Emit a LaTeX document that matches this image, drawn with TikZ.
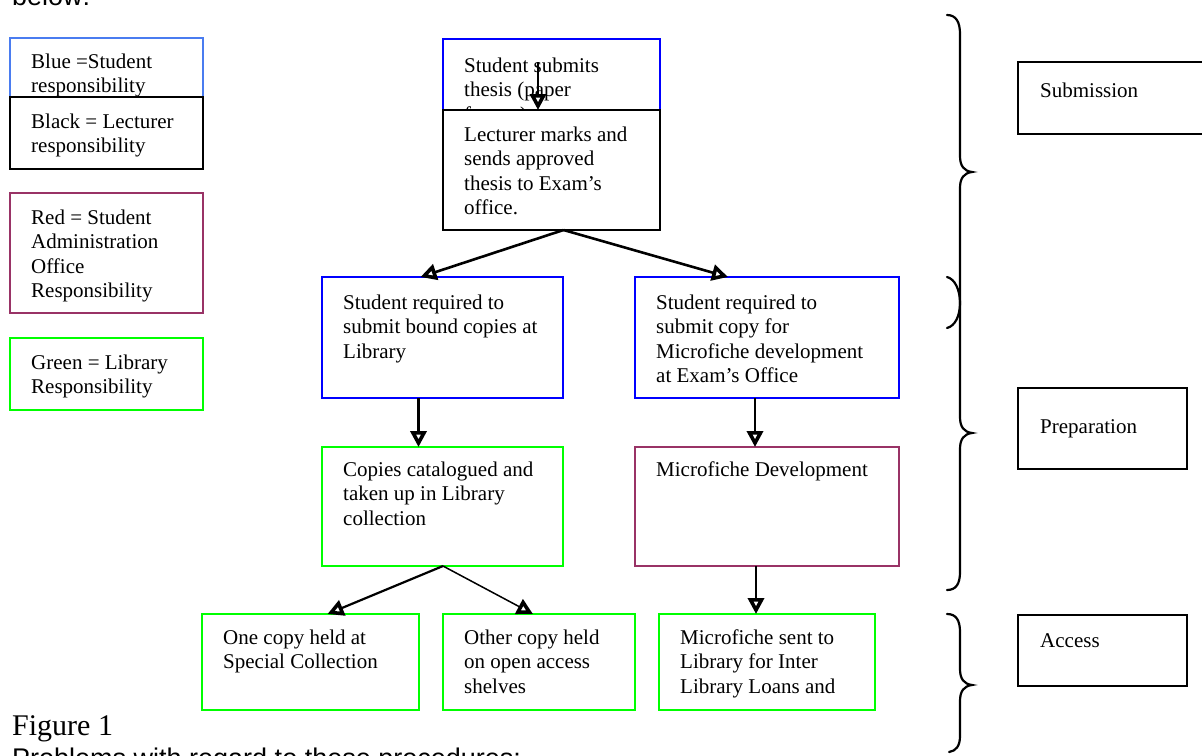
\documentclass[tikz,border=0pt]{standalone}
\usepackage{fontspec}
\setmainfont{Liberation Serif}
\newfontfamily\arialf{Liberation Sans}
\usetikzlibrary{arrows.meta}
\definecolor{stublue}{RGB}{0,0,255}
\definecolor{legblue}{RGB}{74,124,240}
\definecolor{libgreen}{RGB}{0,255,0}
\definecolor{admred}{RGB}{153,51,102}
\tikzset{
  boxst/.style={rectangle, line width=2.8pt, fill=white, anchor=north west, inner sep=0pt, outer sep=0pt},
  txt/.style={anchor=north west, align=left, inner sep=0pt, font=\fontsize{21}{24.5}\selectfont},
  tipst/.style={-{Triangle[open,length=16pt,width=16pt,line width=3.6pt]}},
  arr/.style={line width=2.6pt, tipst},
  thinarr/.style={line width=1.5pt, tipst},
  bracest/.style={line width=2.2pt, line cap=round},
}
\newcommand\bx[8]{%
  \node[boxst,draw=#6,minimum width=#4pt-#2pt,minimum height=#5pt-#3pt] (#1) at (#2,#3) {};
  \node[txt] (#1t) at ([xshift=21pt,yshift=#7pt]#1.north west) {\strut #8};}
\begin{document}
\begin{tikzpicture}[x=1pt,y=-1pt]
\useasboundingbox[fill=white] (0,0) rectangle (1202,755);
% partial texts at the edges
\node[anchor=base west, inner sep=0pt, font=\arialf\fontsize{27}{31}\selectfont] (below) at (12,5) {below:};
\node[anchor=base west, inner sep=0pt, font=\fontsize{30}{34}\selectfont] (fig) at (12,735) {Figure 1};
\node[anchor=base west, inner sep=0pt, font=\arialf\fontsize{27}{31}\selectfont] (prob) at (12,767) {Problems with regard to these procedures:};
% legend
\bx{lblue}{10}{38}{203}{115}{legblue}{-13}{Blue =Student\\responsibility}
\bx{lblack}{10}{97}{203}{169}{black}{-14}{Black = Lecturer\\responsibility}
\bx{lred}{10}{193}{203}{313}{admred}{-14}{Red = Student\\Administration\\Office\\Responsibility}
\bx{lgreen}{10}{338}{203}{410}{libgreen}{-14}{Green = Library\\Responsibility}
% main flow
\bx{ss}{443}{39}{660}{125}{stublue}{-16}{Student submits\\thesis (paper\\format)}
\coordinate (ssa) at (538,62);
\draw[line width=2.2pt, tipst] (ssa) -- ([xshift=-13.5pt]ss.north |- 0,110);
\bx{lm}{443}{110}{660}{230}{black}{-14}{Lecturer marks and\\sends approved\\thesis to Exam's\\office.}
\bx{ba}{322}{277}{563}{398}{stublue}{-15}{Student required to\\submit bound copies at\\Library}
\bx{bb}{635}{277}{899}{398}{stublue}{-15}{Student required to\\submit copy for\\Microfiche development\\at Exam's Office}
\bx{bc}{322}{447}{563}{566}{libgreen}{-12}{Copies catalogued and\\taken up in Library\\collection}
\bx{bd}{635}{447}{899}{566}{admred}{-12}{Microfiche Development}
\bx{be}{202}{614}{419}{710}{libgreen}{-13}{One copy held at\\Special Collection}
\bx{bf}{443}{614}{635}{710}{libgreen}{-13}{Other copy held\\on open access\\shelves}
\bx{bg}{659}{614}{875}{710}{libgreen}{-13}{Microfiche sent to\\Library for Inter\\Library Loans and}
% connectors
\draw[arr] ([xshift=12pt]lm.south) -- ([xshift=-22pt]ba.north);
\draw[arr] ([xshift=12pt]lm.south) -- ([xshift=-39pt]bb.north);
\draw[arr] ([xshift=-24pt]ba.south) -- ([xshift=-24pt]bc.north);
\draw[arr] ([xshift=-12pt]bb.south) -- ([xshift=-12pt]bd.north);
\draw[arr] ([xshift=-11pt]bd.south) -- ([xshift=-11pt]bg.north);
\draw[line width=2.2pt, tipst] ([xshift=0.5pt]bc.south) -- ([xshift=17pt]be.north);
\draw[thinarr] ([xshift=0.5pt]bc.south) -- ([xshift=-6pt]bf.north);
% stage labels
\node[boxst, line width=2.2pt, draw=black, minimum width=200pt, minimum height=72pt] (sub) at (1018,62) {};
\node[txt] (subt) at ([xshift=22pt,yshift=-18pt]sub.north west) {\strut Submission};
\node[boxst, line width=2.2pt, draw=black, minimum width=169pt, minimum height=81pt] (prep) at (1018,388) {};
\node[txt] (prept) at ([xshift=22pt,yshift=-28pt]prep.north west) {\strut Preparation};
\node[boxst, line width=2.2pt, draw=black, minimum width=169pt, minimum height=71pt] (acc) at (1018,615) {};
\node[txt] (acct) at ([xshift=22pt,yshift=-15pt]acc.north west) {\strut Access};
% braces
\draw[bracest] (947,15) .. controls (956,15) and (960,22) .. (960,34) -- (960,156)
  .. controls (960,166) and (964,171) .. (972,172)
  .. controls (964,173) and (960,178) .. (960,188) -- (960,417)
  .. controls (960,427) and (964,432) .. (972,433)
  .. controls (964,434) and (960,439) .. (960,449) -- (960,572)
  .. controls (960,584) and (956,590) .. (947,590);
\draw[bracest] (947,277) .. controls (955,279) and (960,290) .. (960,303)
  .. controls (960,316) and (955,326) .. (947,328);
\draw[bracest] (947,614) .. controls (956,614) and (960,620) .. (960,632) -- (960,669)
  .. controls (960,679) and (964,684) .. (972,685)
  .. controls (964,686) and (960,691) .. (960,701) -- (960,736)
  .. controls (960,746) and (956,751) .. (949,752);
\end{tikzpicture}
\end{document}
